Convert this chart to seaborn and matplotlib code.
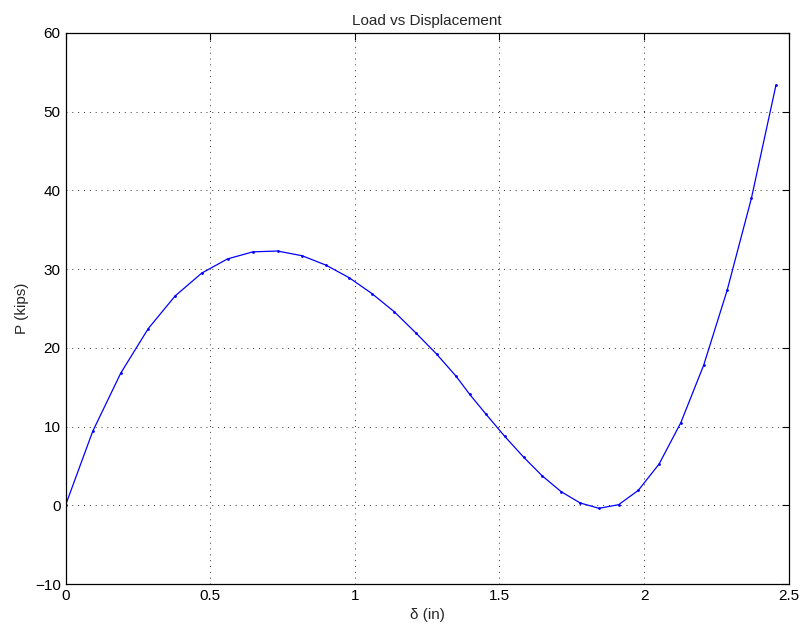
import matplotlib
matplotlib.use("Agg")
import matplotlib.pyplot as plt
import pandas as pd
import seaborn as sns

# displacement (in) and load (kips)
delta = [0.0, 0.094, 0.191, 0.286, 0.379, 0.471, 0.560, 0.648, 0.733, 0.818,
         0.901, 0.981, 1.059, 1.136, 1.211, 1.283, 1.350, 1.397, 1.453, 1.518,
         1.584, 1.647, 1.713, 1.779, 1.844, 1.912, 1.980, 2.052, 2.127, 2.206,
         2.287, 2.371, 2.456]
load = [0.0, 9.4, 16.8, 22.45, 26.6, 29.5, 31.3, 32.2, 32.3, 31.7,
        30.5, 28.9, 26.9, 24.6, 21.9, 19.2, 16.4, 14.1, 11.6, 8.77,
        6.1, 3.77, 1.74, 0.3, -0.38, 0.08, 1.9, 5.25, 10.5, 17.8,
        27.3, 39.0, 53.4]

xticks = [0, 0.5, 1, 1.5, 2, 2.5]
yticks = [-10, 0, 10, 20, 30, 40, 50, 60]

sns.set_style("white")
plt.rcParams['font.family'] = ['Liberation Sans', 'DejaVu Sans']

df = pd.DataFrame({"delta": delta, "load": load})

fig = plt.figure(figsize=(8.04, 6.28), dpi=100)
ax = fig.add_axes([0.0815, 0.07, 0.8995, 0.8775])

sns.lineplot(data=df, x="delta", y="load", ax=ax, color="blue",
             linewidth=0.9, marker=".", markersize=4, markeredgewidth=0,
             sort=False, estimator=None)

ax.set_xlim(0, 2.5)
ax.set_ylim(-10, 60)
ax.set_xticks(xticks)
ax.set_xticklabels(["0", "0.5", "1", "1.5", "2", "2.5"])
ax.set_yticks(yticks)
ax.grid(True, linestyle=(0, (1, 5)), color="black", linewidth=0.7, alpha=0.8)
ax.tick_params(direction="in", length=5, width=0.8, labelsize=11,
               top=True, right=True, colors="black")
for s in ax.spines.values():
    s.set_color("black")
    s.set_linewidth(0.9)

ax.set_xlabel("δ (in)", fontsize=11)
ax.set_ylabel("P (kips)", fontsize=11)
ax.set_title("Load vs Displacement", fontsize=11)

fig.savefig("out.png", dpi=100)
